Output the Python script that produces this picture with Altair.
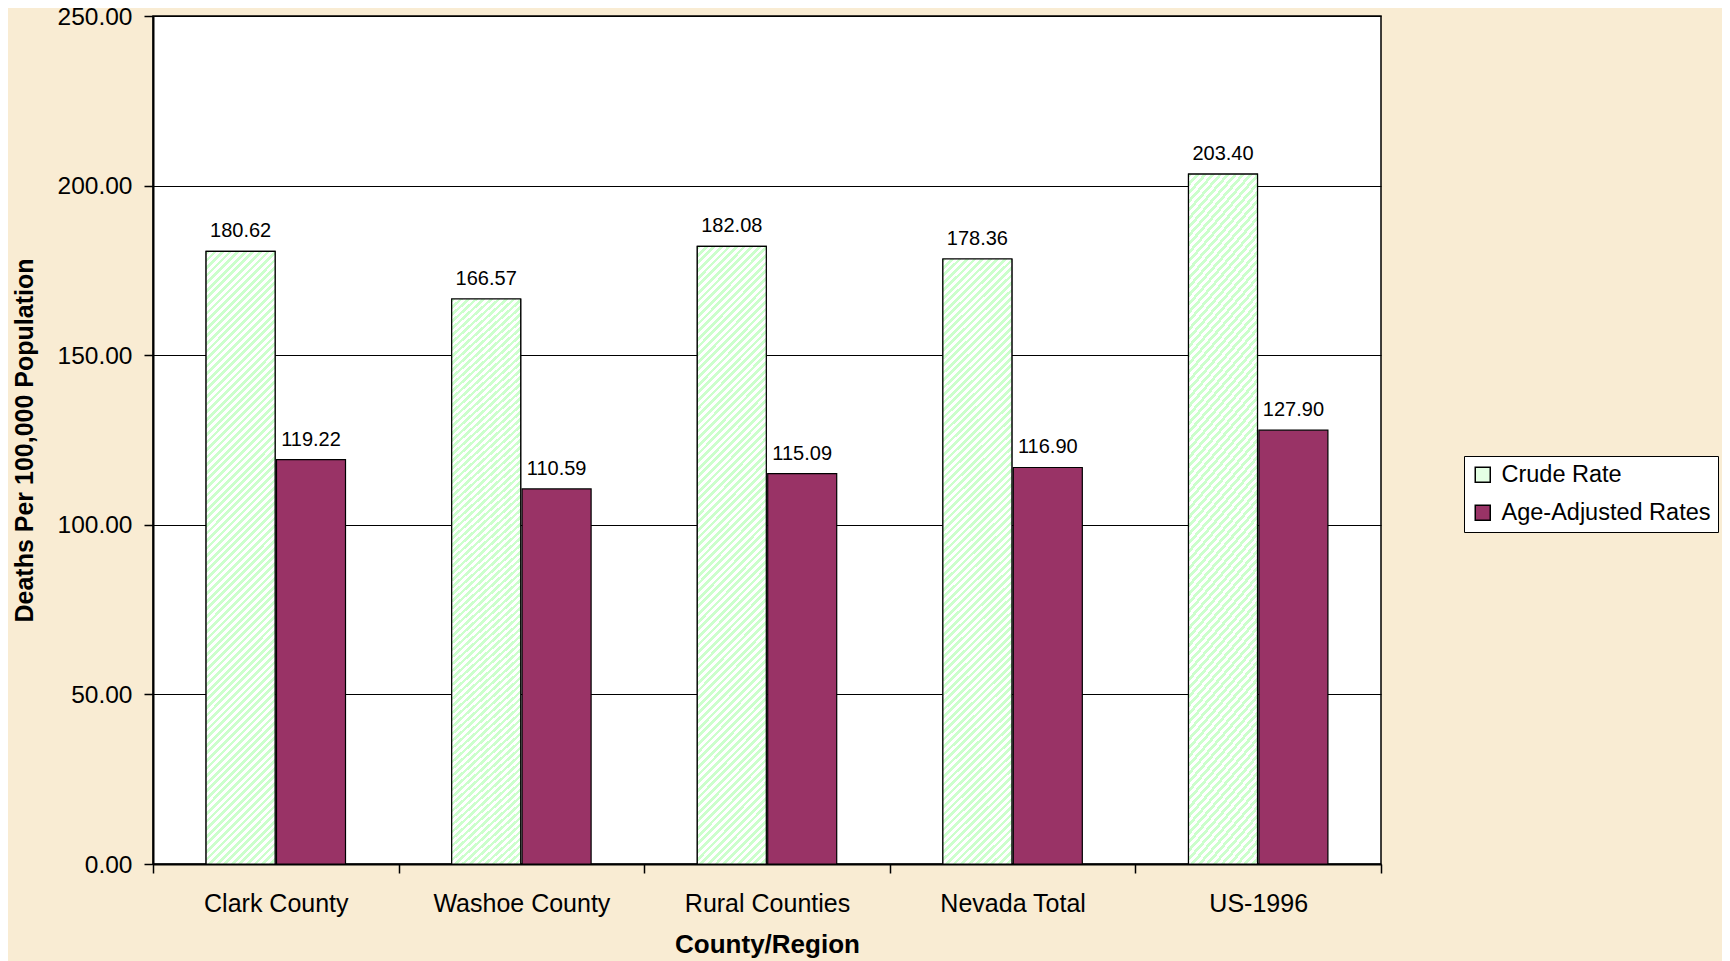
import altair as alt
import pandas as pd

regions = ["Clark County", "Washoe County", "Rural Counties", "Nevada Total", "US-1996"]
crude_rate = [180.62, 166.57, 182.08, 178.36, 203.40]
age_adjusted = [119.22, 110.59, 115.09, 116.90, 127.90]
series = ["Crude Rate", "Age-Adjusted Rates"]
y_ticks = [0, 50, 100, 150, 200, 250]

rows = []
for r, c, a in zip(regions, crude_rate, age_adjusted):
    rows.append({"Region": r, "Series": series[0], "value": c})
    rows.append({"Region": r, "Series": series[1], "value": a})
df = pd.DataFrame(rows)

FONT = "Liberation Sans"
GREEN = "#CCFFCC"
PURPLE = "#993366"

# diagonal hatch built as a striped linear gradient
periods = 90
stops = []
for i in range(periods):
    stops.append({"offset": i / periods, "color": GREEN})
    stops.append({"offset": (i + 0.5) / periods, "color": GREEN})
    stops.append({"offset": (i + 0.5) / periods, "color": "#FFFFFF"})
    stops.append({"offset": (i + 1) / periods, "color": "#FFFFFF"})
hatch_fill = {"gradient": "linear", "stops": stops, "x1": 0, "y1": 0, "x2": 0.124, "y2": 1.1}

x_enc = alt.X(
    "Region:N",
    sort=regions,
    scale=alt.Scale(domain=regions, paddingInner=0, paddingOuter=0),
    axis=alt.Axis(
        title="County/Region",
        labelAngle=0,
        tickBand="extent",
        tickSize=9,
        tickColor="black",
        tickWidth=1.5,
        domainColor="black",
        domainWidth=2,
        labelFont=FONT,
        labelFontSize=25,
        labelColor="black",
        labelPadding=18,
        titleFont=FONT,
        titleFontSize=26,
        titleFontWeight="bold",
        titleColor="black",
        titleY=88,
        titleBaseline="alphabetic",
    ),
)
xoff_enc = alt.XOffset(
    "Series:N", sort=series, scale=alt.Scale(domain=series, paddingInner=0.02, paddingOuter=0.754)
)
y_enc = alt.Y(
    "value:Q",
    scale=alt.Scale(domain=[0, 250], nice=False),
    axis=alt.Axis(
        title="Deaths Per 100,000 Population",
        values=y_ticks,
        format=".2f",
        grid=True,
        gridColor="black",
        gridWidth=1,
        tickSize=9,
        tickColor="black",
        tickWidth=1.5,
        domainColor="black",
        domainWidth=2,
        labelFont=FONT,
        labelFontSize=24.5,
        labelColor="black",
        labelPadding=12,
        labelOffset=1,
        titleFont=FONT,
        titleFontSize=25,
        titleFontWeight="bold",
        titleColor="black",
        titleAngle=270,
        titleX=-129,
        titleY=424,
        titleAlign="center",
        titleBaseline="middle",
    ),
)

base = alt.Chart(df).encode(x=x_enc, xOffset=xoff_enc, y=y_enc)

bars = base.mark_bar(stroke="black", strokeWidth=1.2).encode(
    color=alt.Color(
        "Series:N",
        sort=series,
        scale=alt.Scale(domain=series, range=["#E4FFE4", PURPLE]),
        legend=alt.Legend(
            title=None,
            orient="none",
            legendX=1311,
            legendY=440,
            fillColor="white",
            strokeColor="black",
            padding=7,
            symbolType="square",
            symbolSize=225,
            symbolStrokeColor="black",
            symbolStrokeWidth=1.5,
            labelFont=FONT,
            labelFontSize=23.5,
            labelColor="black",
            labelOffset=7,
            rowPadding=13,
            labelLimit=400,
        ),
    )
)

hatch = base.transform_filter(alt.datum.Series == series[0]).mark_bar(
    fill=hatch_fill, stroke="black", strokeWidth=1.2
)

labels = base.mark_text(
    dy=-14, baseline="alphabetic", align="center", font=FONT, fontSize=20, color="black"
).encode(text=alt.Text("value:Q", format=".2f"))

chart = (
    alt.layer(bars, hatch, labels)
    .properties(
        width=1228,
        height=848,
        autosize=alt.AutoSizeParams(type="none"),
        padding={"left": 145, "top": 8, "right": 341, "bottom": 97},
        background="#F9ECD3",
    )
    .configure_view(fill="white", stroke="black", strokeWidth=1.5)
)

chart.save("out.html", embed_options={"renderer": "svg", "actions": False})
